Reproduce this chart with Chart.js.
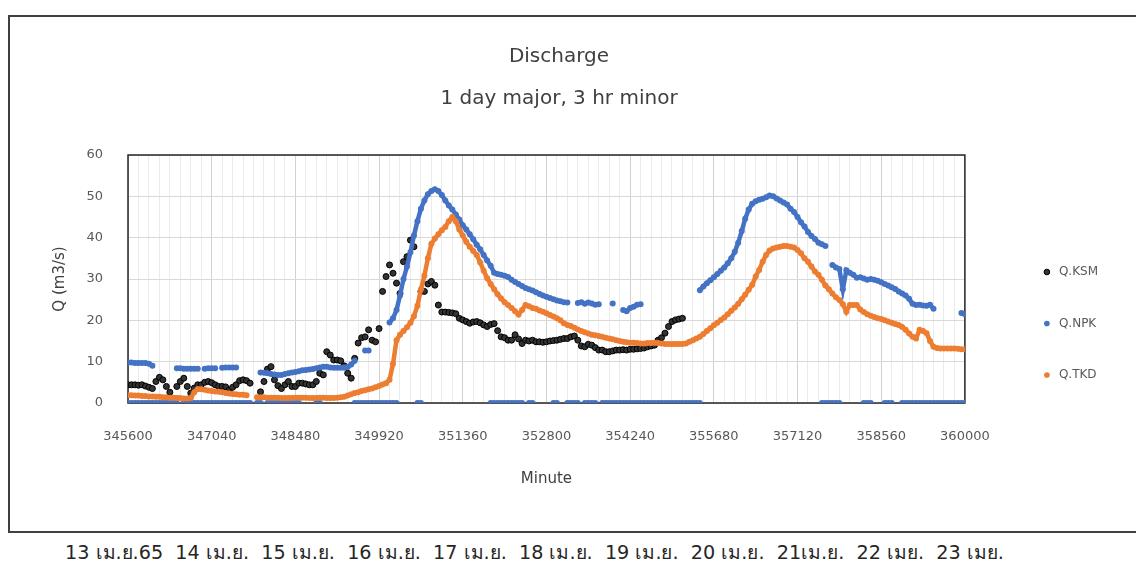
<!DOCTYPE html>
<html>
<head>
<meta charset="utf-8">
<script src="https://cdn.jsdelivr.net/npm/chart.js@4.4.0/dist/chart.umd.min.js"></script>
<style>
  html, body { margin: 0; padding: 0; background: #fff; overflow: hidden; }
  body { width: 1136px; height: 563px; position: relative; }
  #frame { position: absolute; left: 8px; top: 15px; width: 1140px; height: 514px; border: 2px solid #404040; }
  #dates { position: absolute; left: 65px; top: 541px; font: 19.2px "DejaVu Sans", sans-serif; line-height: 24px; color: #262626; white-space: pre; }
</style>
</head>
<body>
<div id="frame"><canvas id="qChart" width="1140" height="514"></canvas></div>
<div id="dates"></div>
<script>
const _ = null;

// hourly readings, one row per day, starting at minute 345600
const startMinute = 345600;
const endMinute = 360000;
const stepMinutes = 60;

const ksm = [
  4.4, 4.4, 4.4, 4.3, 4.4, 4.1, 3.8, 3.5, 5.2, 6.2, 5.6, 4.0, 2.6, _, 4.0, 5.2, 6.0, 4.0, 2.4, 3.6, 4.4, 4.4, 5.0, 5.2,
  4.9, 4.4, 4.0, 4.0, 3.9, 3.1, 3.8, 4.4, 5.4, 5.6, 5.4, 4.8, _, _, 2.7, 5.2, 8.2, 8.8, 5.6, 4.2, 3.5, 4.4, 5.2, 4.0,
  4.0, 4.8, 4.8, 4.6, 4.4, 4.4, 5.2, 7.2, 6.8, 12.4, 11.6, 10.4, 10.4, 10.2, 9.0, 7.2, 6.0, 10.8, 14.5, 15.8, 16.0, 17.7, 15.2, 14.8,
  18.0, 27.0, 30.6, 33.4, 31.4, 29.0, 26.5, 34.2, 35.4, 39.4, 37.8, _, 27.0, 27.0, 28.8, 29.4, 28.5, 23.7, 22.0, 22.0, 21.9, 21.8, 21.6, 20.5,
  20.1, 19.7, 19.3, 19.6, 19.7, 19.4, 18.9, 18.5, 19.0, 19.2, 17.5, 16.0, 15.8, 15.2, 15.2, 16.5, 15.5, 14.4, 15.2, 15.0, 15.2, 14.8, 14.8, 14.7,
  14.8, 15.0, 15.1, 15.2, 15.4, 15.6, 15.6, 16.0, 16.2, 15.2, 13.8, 13.6, 14.2, 14.0, 13.4, 12.8, 12.8, 12.4, 12.4, 12.6, 12.8, 12.8, 12.9, 12.8,
  13.0, 13.0, 13.1, 13.2, 13.3, 13.6, 13.8, 14.0, 15.2, 15.8, 16.9, 18.5, 19.7, 20.1, 20.3, 20.5, _, _, _, _, _, _, _, _,
  _, _, _, _, _, _, _, _, _, _, _, _, _, _, _, _, _, _, _, _, _, _, _, _,
  _, _, _, _, _, _, _, _, _, _, _, _, _, _, _, _, _, _, _, _, _, _, _, _,
  _, _, _, _, _, _, _, _, _, _, _, _, _, _, _, _, _, _, _, _, _, _, _, _,
  _
];

const npk = [
  9.8, 9.8, 9.7, 9.7, 9.7, 9.7, 9.5, 9.0, _, _, _, _, _, _, 8.4, 8.4, 8.3, 8.3, 8.3, 8.3, 8.3, _, 8.3, 8.4,
  8.4, 8.4, _, 8.5, 8.6, 8.6, 8.6, 8.6, _, _, _, _, _, _, 7.4, 7.3, 7.2, 7.0, 6.9, 6.8, 6.8, 7.0, 7.2, 7.4,
  7.5, 7.7, 7.9, 8.0, 8.1, 8.2, 8.4, 8.6, 8.8, 8.8, 8.6, 8.5, 8.5, 8.5, 8.5, 8.7, 9.3, 10.2, _, _, 12.7, 12.7, _, _,
  _, _, _, 19.5, 20.5, 22.5, 26.0, 30.0, 33.0, 36.5, 40.5, 44.0, 47.0, 49.0, 50.5, 51.3, 51.7, 51.3, 50.3, 49.0, 47.8, 46.8, 45.6, 44.4,
  43.0, 42.0, 40.8, 39.6, 38.3, 37.2, 35.8, 34.5, 33.2, 31.5, 31.2, 31.0, 30.8, 30.5, 29.8, 29.3, 28.8, 28.3, 27.8, 27.5, 27.2, 26.8, 26.4, 26.0,
  25.7, 25.4, 25.1, 24.8, 24.6, 24.4, 24.3, _, _, 24.2, 24.4, 24.0, 24.3, 24.1, 23.8, 23.9, _, _, _, 24.1, _, _, 22.5, 22.2,
  23.0, 23.3, 23.8, 23.9, _, _, _, _, _, _, _, _, _, _, _, _, _, _, _, _, 27.3, 28.2, 29.0, 29.7,
  30.4, 31.2, 32.0, 32.8, 33.8, 35.0, 36.6, 38.8, 41.6, 44.6, 46.8, 48.2, 48.8, 49.2, 49.4, 49.8, 50.2, 50.0, 49.5, 49.0, 48.5, 48.0, 47.0, 46.2,
  45.0, 43.7, 42.7, 41.4, 40.4, 39.7, 38.8, 38.4, 38.0, _, 33.4, 32.8, 32.4, 27.5, 32.1, 31.5, 31.0, 30.3, 30.4, 30.1, 29.8, 30.0, 29.8, 29.6,
  29.2, 28.8, 28.4, 28.0, 27.6, 27.0, 26.5, 26.0, 25.2, 24.0, 23.7, 23.8, 23.6, 23.5, 23.8, 22.8, _, _, _, _, _, _, _, 21.8,
  21.5
];

// NPK gauge also logged zero readings in between
const npkZero = [
  0, 0, 0, 0, 0, 0, 0, 0, 0, 0, 0, 0, 0, 0, 0, _, 0, 0, 0, 0, 0, 0, 0, 0,
  0, 0, 0, 0, 0, 0, 0, 0, 0, 0, 0, 0, _, 0, 0, _, 0, 0, 0, 0, 0, 0, 0, 0,
  0, 0, _, _, _, _, 0, 0, _, _, _, _, _, _, _, _, _, 0, 0, 0, 0, 0, 0, 0,
  0, 0, 0, 0, 0, 0, _, _, _, _, _, 0, 0, _, _, _, _, _, _, _, _, _, _, _,
  _, _, _, _, _, _, _, _, 0, 0, 0, 0, 0, 0, 0, 0, 0, 0, _, 0, 0, _, _, _,
  _, _, 0, 0, _, _, 0, 0, 0, 0, _, 0, 0, 0, 0, _, 0, 0, 0, 0, 0, 0, 0, 0,
  0, 0, 0, 0, 0, 0, 0, 0, 0, 0, 0, 0, 0, 0, 0, 0, 0, 0, 0, 0, 0, _, _, _,
  _, _, _, _, _, _, _, _, _, _, _, _, _, _, _, _, _, _, _, _, _, _, _, _,
  _, _, _, _, _, _, _, 0, 0, 0, 0, 0, 0, _, _, _, _, _, _, 0, 0, 0, _, _,
  _, 0, 0, 0, _, _, 0, 0, 0, 0, 0, 0, 0, 0, 0, 0, 0, 0, 0, 0, 0, 0, 0, 0,
  0
];

const tkd = [
  1.9, 1.9, 1.8, 1.8, 1.7, 1.7, 1.6, 1.6, 1.5, 1.5, 1.4, 1.4, 1.3, 1.3, 1.2, 1.2, 1.1, 1.1, 1.2, 2.6, 3.4, 3.3, 3.2, 3.0,
  2.9, 2.8, 2.7, 2.6, 2.4, 2.3, 2.2, 2.1, 2.0, 2.0, 1.9, _, _, 1.4, 1.4, 1.4, 1.3, 1.3, 1.3, 1.3, 1.2, 1.2, 1.2, 1.2,
  1.3, 1.3, 1.3, 1.3, 1.2, 1.2, 1.2, 1.3, 1.3, 1.2, 1.2, 1.2, 1.3, 1.4, 1.5, 1.8, 2.1, 2.4, 2.6, 2.9, 3.1, 3.3, 3.5, 3.8,
  4.1, 4.5, 4.8, 5.6, 9.5, 15.2, 16.5, 17.4, 18.3, 19.4, 21.0, 23.5, 27.5, 30.8, 35.0, 38.5, 39.8, 40.8, 41.8, 42.6, 44.0, 45.0, 44.0, 42.0,
  40.5, 39.0, 37.8, 36.8, 35.8, 34.0, 32.0, 30.2, 28.8, 27.5, 26.3, 25.3, 24.4, 23.7, 23.0, 22.2, 21.4, 22.5, 23.7, 23.4, 23.0, 22.8, 22.4, 22.1,
  21.7, 21.3, 20.9, 20.5, 20.0, 19.3, 18.9, 18.6, 18.2, 17.8, 17.4, 17.1, 16.8, 16.5, 16.4, 16.2, 16.0, 15.8, 15.6, 15.4, 15.2, 15.0, 14.8, 14.7,
  14.6, 14.6, 14.5, 14.4, 14.4, 14.5, 14.5, 14.6, 14.5, 14.4, 14.3, 14.3, 14.3, 14.3, 14.3, 14.3, 14.4, 14.8, 15.2, 15.6, 16.0, 16.7, 17.4, 18.1,
  18.8, 19.4, 20.1, 20.7, 21.5, 22.3, 23.1, 24.0, 25.1, 26.2, 27.4, 28.6, 30.6, 32.2, 34.2, 35.8, 36.9, 37.4, 37.6, 37.8, 38.0, 38.0, 37.8, 37.6,
  37.0, 36.2, 35.0, 34.2, 33.0, 31.8, 31.0, 29.8, 28.4, 27.5, 26.5, 25.6, 24.9, 23.9, 22.1, 23.7, 23.7, 23.7, 22.6, 22.0, 21.5, 21.1, 20.8, 20.5,
  20.3, 20.0, 19.7, 19.4, 19.1, 18.9, 18.4, 17.7, 16.8, 16.0, 15.6, 17.7, 17.4, 16.9, 15.0, 13.6, 13.3, 13.2, 13.2, 13.2, 13.2, 13.2, 13.1, 13.0,
  13.0
];

const dayLabels = ['13 เม.ย.65', '14 เม.ย.', '15 เม.ย.', '16 เม.ย.', '17 เม.ย.', '18 เม.ย.', '19 เม.ย.', '20 เม.ย.', '21เม.ย.', '22 เมย.', '23 เมย.'];

document.getElementById('dates').textContent = dayLabels.join('  ');

function toPoints(values) {
    return values.map((v, i) => ({ x: startMinute + i * stepMinutes, y: v }));
}

const blue = '#4472C4';
const orange = '#ED7D31';

Chart.defaults.font.family = '"DejaVu Sans", sans-serif';
Chart.defaults.color = '#595959';

// outline round the plot area, drawn under the markers
const plotFrame = {
    id: 'plotFrame',
    beforeDatasetsDraw(chart) {
        const { ctx, chartArea: a } = chart;
        ctx.save();
        ctx.strokeStyle = '#262626';
        ctx.lineWidth = 1.5;
        ctx.strokeRect(a.left, a.top, a.right - a.left, a.bottom - a.top);
        ctx.restore();
    }
};

const ctx = document.getElementById('qChart').getContext('2d');
const qChart = new Chart(ctx, {
    type: 'scatter',
    data: {
        datasets: [{
            label: 'Q.KSM',
            data: toPoints(ksm),
            backgroundColor: '#333333',
            borderColor: '#000000',
            borderWidth: 1,
            pointRadius: 3,
            order: 4
        }, {
            label: 'Q.NPK',
            data: toPoints(npk),
            backgroundColor: blue,
            borderColor: blue,
            pointBorderWidth: 0,
            pointRadius: 3,
            showLine: true,
            borderWidth: 4.5,
            spanGaps: false,
            order: 2
        }, {
            label: 'Q.TKD',
            data: toPoints(tkd),
            backgroundColor: orange,
            borderColor: orange,
            pointBorderWidth: 0,
            pointRadius: 3,
            showLine: true,
            borderWidth: 4.5,
            spanGaps: false,
            order: 1
        }, {
            label: 'Q.NPK zero',
            data: toPoints(npkZero),
            backgroundColor: blue,
            borderColor: blue,
            pointBorderWidth: 0,
            pointRadius: 3,
            showLine: true,
            borderWidth: 4.5,
            spanGaps: false,
            order: 3
        }]
    },
    options: {
        responsive: false,
        animation: false,
        devicePixelRatio: 1,
        layout: { padding: { left: 0, top: 0, right: 42, bottom: 0 } },
        plugins: {
            title: {
                display: true,
                text: 'Discharge',
                color: '#404040',
                font: { size: 20, weight: 'normal' },
                padding: { top: 28, bottom: 9 }
            },
            subtitle: {
                display: true,
                text: '1 day major, 3 hr minor',
                color: '#404040',
                font: { size: 20 },
                padding: { top: 9, bottom: 44 }
            },
            legend: {
                position: 'right',
                title: { display: true, text: '', font: { size: 12 }, padding: { top: 84.6, bottom: 0 } },
                labels: {
                    usePointStyle: true,
                    boxWidth: 12,
                    boxHeight: 4,
                    padding: 39.5,
                    color: '#595959',
                    font: { size: 12 },
                    filter: item => item.text !== 'Q.NPK zero',
                    sort: (a, b) => a.datasetIndex - b.datasetIndex
                }
            },
            tooltip: { enabled: false }
        },
        scales: {
            x: {
                type: 'linear',
                min: startMinute,
                max: endMinute,
                afterFit: s => { s.height = 128; },
                ticks: {
                    stepSize: 180,
                    autoSkip: false,
                    maxRotation: 0,
                    padding: 26,
                    font: { size: 13 },
                    callback: v => (Math.round(v) - startMinute) % 1440 === 0 ? String(Math.round(v)) : ''
                },
                grid: {
                    drawTicks: false,
                    color: c => c.tick && (Math.round(c.tick.value) - startMinute) % 1440 === 0 ? '#d2d2d2' : '#ebebeb'
                },
                border: { display: false },
                title: { display: true, text: 'Minute', color: '#404040', font: { size: 15 }, padding: { top: 0, bottom: 43 } }
            },
            y: {
                min: 0,
                max: 60,
                afterFit: s => { s.width = 118; },
                ticks: { stepSize: 10, padding: 25, font: { size: 13 } },
                grid: { drawTicks: false, color: '#d9d9d9' },
                border: { display: false },
                title: { display: true, text: 'Q (m3/s)', color: '#404040', font: { size: 15 }, padding: { top: 41, bottom: 0 } }
            },
            y2: {
                position: 'right',
                afterFit: s => { s.width = 36.5; },
                ticks: { display: false },
                grid: { display: false },
                border: { display: false }
            }
        }
    },
    plugins: [plotFrame]
});
</script>
</body>
</html>
